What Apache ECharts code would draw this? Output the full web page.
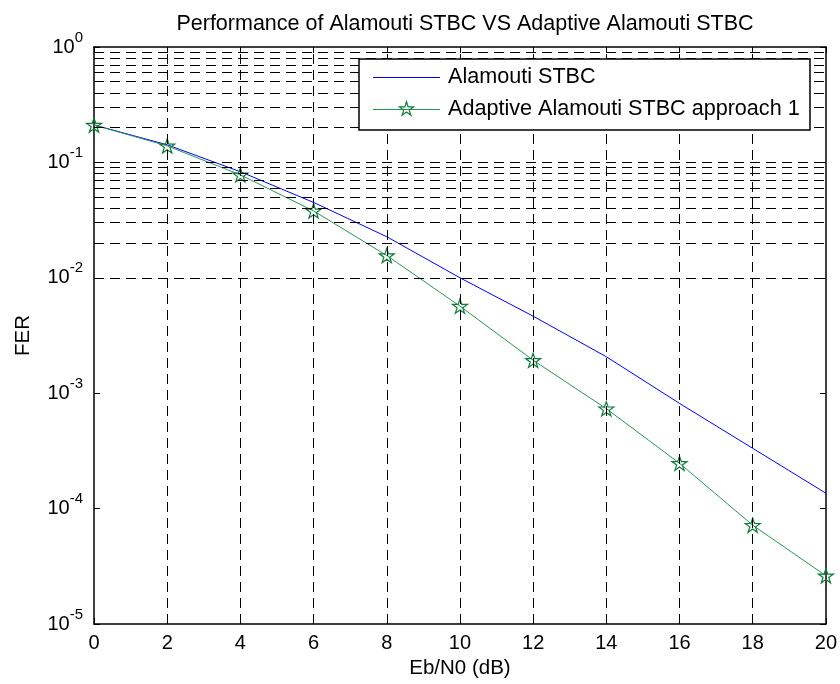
<!DOCTYPE html>
<html>
<head>
<meta charset="utf-8">
<script src="https://cdn.jsdelivr.net/npm/echarts@6/dist/echarts.min.js"></script>
<style>html,body{margin:0;padding:0;background:#fff}#c{width:840px;height:684px}</style>
</head>
<body>
<div id="c"></div>
<script>
const snrDb = [0, 2, 4, 6, 8, 10, 12, 14, 16, 18, 20];
const ferAlamouti = [0.211, 0.142, 0.083, 0.045, 0.0227, 0.0100, 0.00465, 0.00207, 0.000816, 0.000333, 0.000136];
const ferAdaptive = [0.211, 0.139, 0.078, 0.038, 0.0156, 0.00568, 0.00193, 0.000734, 0.000247, 0.0000718, 0.0000262];
const xTicks = [0, 2, 4, 6, 8, 10, 12, 14, 16, 18, 20];
const yDecades = [1e-5, 1e-4, 1e-3, 1e-2, 1e-1, 1e0];
const minorMults = [2, 3, 4, 5, 6, 7, 8, 9];

const seriesNames = ['Alamouti STBC', 'Adaptive Alamouti STBC approach 1'];
const titleText = 'Performance of Alamouti STBC VS Adaptive Alamouti STBC';
const xName = 'Eb/N0 (dB)';
const yName = 'FER';

const FONT = 'Liberation Sans, Arial, sans-serif';
// five-point star outline in a 100x100 box
const STAR_PTS = [[50,0],[61.2,34.5],[97.6,34.5],[68.2,55.9],[79.4,90.5],[50,69.1],[20.6,90.5],[31.8,55.9],[2.4,34.5],[38.8,34.5]];
const STAR = 'path://M' + STAR_PTS.map(p => p.join(',')).join(' L') + ' Z';
const BLUE = '#0000ff';
const GREEN_LINE = '#229a55';
const GREEN_MARK = '#0e7d3a';
const CLEAR = 'rgba(255,255,255,0)';

const minorLines = [];
yDecades.slice(0, -1).forEach(d => minorMults.forEach(m => minorLines.push({ yAxis: d * m })));
const majorYLines = yDecades.slice(1, -1).map(v => ({ yAxis: v }));
const majorXLines = xTicks.slice(1, -1).map(v => ({ xAxis: v }));

const chart = echarts.init(document.getElementById('c'), null, { renderer: 'canvas' });
const gridLine = { color: '#000', width: 1, type: [10, 6] };
const tickStyle = { show: true, inside: true, length: 6, lineStyle: { color: '#000', width: 1 } };

// legend box (drawn as graphic elements)
const LG = { x: 359, y: 59, w: 451, h: 71, lineX0: 373, lineX1: 440, textX: 448, rows: [77.5, 109.5], star: 15 };
const legendText = (name, y) => ({
  type: 'text', z: 101, silent: true,
  style: { text: name, x: LG.textX, y: y, fontFamily: FONT, fontSize: 21.6, fill: '#000', verticalAlign: 'middle', align: 'left' }
});
const legendLine = (y, color) => ({
  type: 'line', z: 101, silent: true,
  shape: { x1: LG.lineX0, y1: y, x2: LG.lineX1, y2: y },
  style: { stroke: color, lineWidth: 1 }
});
const sCx = (LG.lineX0 + LG.lineX1) / 2, sCy = LG.rows[1];
const legendStar = {
  type: 'polygon', z: 102, silent: true,
  shape: { points: STAR_PTS.map(p => [sCx + (p[0] - 50) * LG.star / 100, sCy + (p[1] - 52) * LG.star / 100]) },
  style: { fill: CLEAR, stroke: GREEN_MARK, lineWidth: 1.2 }
};

chart.setOption({
  animation: false,
  backgroundColor: '#fff',
  textStyle: { fontFamily: FONT },
  title: {
    text: titleText,
    left: 460, top: 8, textAlign: 'center',
    textStyle: { fontFamily: FONT, fontSize: 21.5, fontWeight: 'normal', color: '#000' }
  },
  graphic: [
    { type: 'rect', z: 100, silent: true,
      shape: { x: LG.x, y: LG.y, width: LG.w, height: LG.h },
      style: { fill: '#fff', stroke: '#000', lineWidth: 1.5 } },
    legendLine(LG.rows[0], BLUE),
    legendText(seriesNames[0], LG.rows[0]),
    legendLine(LG.rows[1], GREEN_LINE),
    legendStar,
    legendText(seriesNames[1], LG.rows[1])
  ],
  grid: { left: 94, right: 12, top: 47, bottom: 59 },
  xAxis: [{
    type: 'value', min: 0, max: 20, interval: 2,
    name: xName, nameLocation: 'middle', nameGap: 34,
    nameTextStyle: { fontFamily: FONT, fontSize: 20.5, color: '#000' },
    axisLine: { show: true, lineStyle: { color: '#000', width: 1.5 } },
    axisTick: tickStyle,
    axisLabel: { fontFamily: FONT, fontSize: 20, color: '#000', margin: 9 },
    splitLine: { show: false }
  }, {
    type: 'value', min: 0, max: 20, interval: 2, position: 'top',
    axisLine: { show: true, onZero: false, lineStyle: { color: '#000', width: 1.5 } },
    axisTick: tickStyle,
    axisLabel: { show: false }, splitLine: { show: false }
  }],
  yAxis: [{
    type: 'log', logBase: 10, min: 1e-5, max: 1,
    name: yName, nameLocation: 'middle', nameGap: 60, nameRotate: 90,
    nameTextStyle: { fontFamily: FONT, fontSize: 20.5, color: '#000' },
    axisLine: { show: true, lineStyle: { color: '#000', width: 1.5 } },
    axisTick: tickStyle,
    axisLabel: {
      margin: 11,
      formatter: v => '{b|10}{e|' + Math.round(Math.log10(v)) + '}',
      rich: {
        b: { fontFamily: FONT, fontSize: 20, color: '#000' },
        e: { fontFamily: FONT, fontSize: 15, color: '#000', padding: [0, 0, 19, 0] }
      }
    },
    splitLine: { show: false }
  }, {
    type: 'log', logBase: 10, min: 1e-5, max: 1, position: 'right',
    axisLine: { show: true, onZero: false, lineStyle: { color: '#000', width: 1.5 } },
    axisTick: tickStyle,
    axisLabel: { show: false }, splitLine: { show: false }
  }],
  series: [{
    name: '__grid', type: 'line', data: [], silent: true,
    markLine: {
      silent: true, symbol: 'none', label: { show: false }, animation: false,
      lineStyle: gridLine,
      data: minorLines.concat(majorYLines).concat(majorXLines)
    },
    z: 1
  }, {
    name: seriesNames[0], type: 'line', z: 3,
    data: snrDb.map((x, i) => [x, ferAlamouti[i]]),
    symbol: 'none',
    lineStyle: { color: BLUE, width: 1 },
    itemStyle: { color: BLUE }
  }, {
    name: seriesNames[1], type: 'line', z: 4,
    data: snrDb.map((x, i) => [x, ferAdaptive[i]]),
    symbol: STAR, symbolSize: 15, symbolKeepAspect: true,
    lineStyle: { color: GREEN_LINE, width: 1 },
    itemStyle: { color: CLEAR, borderColor: GREEN_MARK, borderWidth: 1.2 }
  }]
});
</script>
</body>
</html>
